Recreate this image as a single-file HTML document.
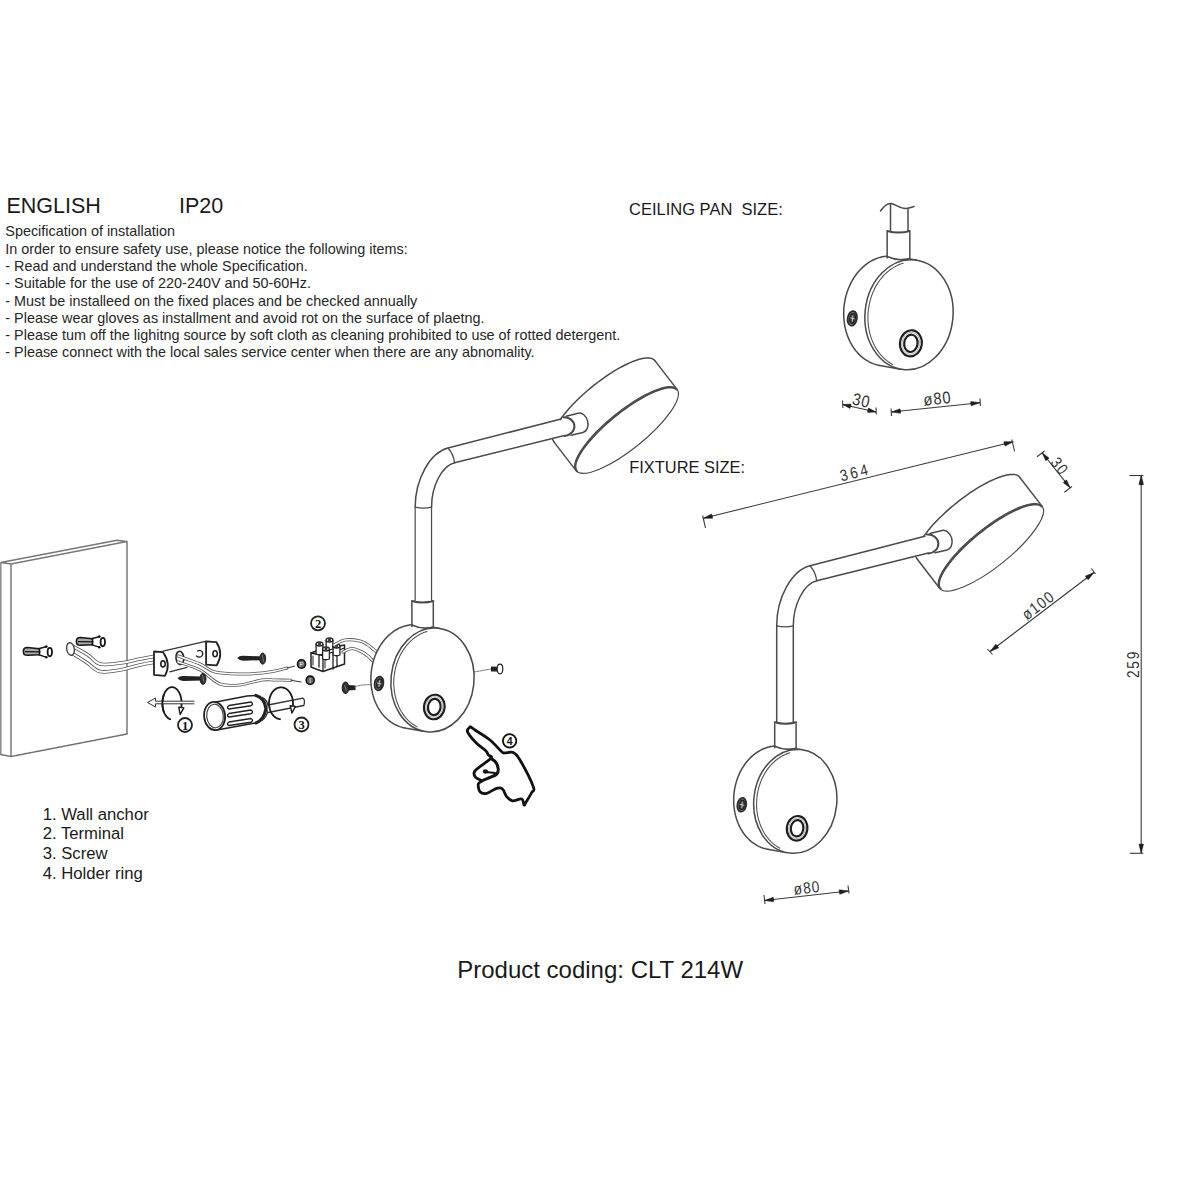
<!DOCTYPE html>
<html><head><meta charset="utf-8"><style>
html,body{margin:0;padding:0;background:#fff;width:1200px;height:1200px;overflow:hidden}
svg{display:block}
text{font-family:"Liberation Sans",sans-serif}
</style></head><body>
<svg width="1200" height="1200" viewBox="0 0 1200 1200">
<rect width="1200" height="1200" fill="#fff"/>
<g id="texts" fill="#1a1a1a">
<text x="6.5" y="212.5" font-size="21.5">ENGLISH</text>
<text x="179" y="212.5" font-size="21.5">IP20</text>
<g font-size="14.4" fill="#262626">
<text x="5.3" y="236.3">Specification of installation</text>
<text x="5.3" y="253.6">In order to ensure safety use, please notice the following items:</text>
<text x="5.3" y="270.9">- Read and understand the whole Specification.</text>
<text x="5.3" y="288.2">- Suitable for the use of 220-240V and 50-60Hz.</text>
<text x="5.3" y="305.5">- Must be installeed on the fixed places and be checked annually</text>
<text x="5.3" y="322.8">- Please wear gloves as installment and avoid rot on the surface of plaetng.</text>
<text x="5.3" y="340.1">- Please tum off the lighitng source by soft cloth as cleaning prohibited to use of rotted detergent.</text>
<text x="5.3" y="357.4">- Please connect with the local sales service center when there are any abnomality.</text>
</g>
<text x="629" y="214.7" font-size="16.5">CEILING PAN&#160; SIZE:</text>
<text x="629.3" y="472.7" font-size="16.4">FIXTURE SIZE:</text>
<g font-size="16.7">
<text x="42.7" y="819.7">1. Wall anchor</text>
<text x="42.7" y="839.4">2. Terminal</text>
<text x="42.7" y="859.1">3. Screw</text>
<text x="42.7" y="878.8">4. Holder ring</text>
</g>
<text x="457.2" y="978" font-size="24">Product coding: CLT 214W</text>
</g>
<g id="draw">
<path d="M879.65,365.47 L877.4,365 L875.17,364.38 L872.97,363.62 L870.82,362.71 L868.71,361.65 L866.65,360.46 L864.65,359.14 L862.72,357.68 L860.85,356.09 L859.06,354.38 L857.35,352.55 L855.72,350.61 L854.18,348.56 L852.73,346.4 L851.37,344.15 L850.12,341.81 L848.97,339.38 L847.93,336.88 L846.99,334.3 L846.17,331.66 L845.46,328.96 L844.87,326.22 L844.39,323.43 L844.04,320.61 L843.8,317.76 L843.69,314.89 L843.69,312.02 L843.82,309.14 L844.06,306.26 L844.43,303.4 L844.92,300.56 L845.52,297.75 L846.24,294.97 L847.07,292.24 L848.02,289.56 L849.07,286.94 L850.23,284.38 L851.49,281.9 L852.86,279.49 L854.31,277.18 L855.86,274.95 L857.5,272.82 L859.22,270.8 L861.02,268.89 L862.89,267.1 L864.83,265.42 L866.84,263.87 L868.9,262.45 L871.01,261.16 L873.17,260.01 L875.37,259 L877.6,258.13 L879.86,257.4 L882.15,256.83 L884.44,256.4 L886.75,256.12 L889.06,255.99 L891.37,256.01 L893.66,256.18 L895.95,256.51 L917.15,260.22 L909,314.7 L900.85,369.18 Z" fill="#fff" stroke="none"/>
<path d="M879.65,365.47 L877.4,365 L875.17,364.38 L872.97,363.62 L870.82,362.71 L868.71,361.65 L866.65,360.46 L864.65,359.14 L862.72,357.68 L860.85,356.09 L859.06,354.38 L857.35,352.55 L855.72,350.61 L854.18,348.56 L852.73,346.4 L851.37,344.15 L850.12,341.81 L848.97,339.38 L847.93,336.88 L846.99,334.3 L846.17,331.66 L845.46,328.96 L844.87,326.22 L844.39,323.43 L844.04,320.61 L843.8,317.76 L843.69,314.89 L843.69,312.02 L843.82,309.14 L844.06,306.26 L844.43,303.4 L844.92,300.56 L845.52,297.75 L846.24,294.97 L847.07,292.24 L848.02,289.56 L849.07,286.94 L850.23,284.38 L851.49,281.9 L852.86,279.49 L854.31,277.18 L855.86,274.95 L857.5,272.82 L859.22,270.8 L861.02,268.89 L862.89,267.1 L864.83,265.42 L866.84,263.87 L868.9,262.45 L871.01,261.16 L873.17,260.01 L875.37,259 L877.6,258.13 L879.86,257.4 L882.15,256.83 L884.44,256.4 L886.75,256.12 L889.06,255.99 L891.37,256.01 L893.66,256.18 L895.95,256.51" fill="none" stroke="#4a4a4a" stroke-width="1.5" stroke-linejoin="round" stroke-linecap="round" />
<line x1="879.65" y1="365.47" x2="900.85" y2="369.18" stroke="#4a4a4a" stroke-width="1.5" />
<line x1="895.95" y1="256.51" x2="917.15" y2="260.22" stroke="#4a4a4a" stroke-width="1.5" />
<rect x="887.16" y="230.96" width="22.68" height="27.56" fill="#fff" stroke="none"/>
<line x1="887.16" y1="231.96" x2="887.16" y2="258.52" stroke="#4a4a4a" stroke-width="1.5" />
<line x1="909.85" y1="231.96" x2="909.85" y2="258.52" stroke="#4a4a4a" stroke-width="1.5" />
<path d="M887.16,230.96 Q898.51,234.14 909.85,230.96" fill="none" stroke="#4a4a4a" stroke-width="2.0" stroke-linejoin="round" stroke-linecap="round" />
<path d="M887.16,256.52 Q898.51,261.7 909.85,258.52" fill="none" stroke="#4a4a4a" stroke-width="1.6" stroke-linejoin="round" stroke-linecap="round" />
<ellipse cx="909" cy="314.7" rx="43.99" ry="55.12" transform="rotate(6 909 314.7)" fill="#fff" stroke="#4a4a4a" stroke-width="1.5" />
<path d="M892.56,364.43 L890.14,363.03 L887.81,361.44 L885.57,359.67 L883.43,357.73 L881.41,355.61 L879.49,353.34 L877.71,350.92 L876.05,348.35 L874.53,345.66 L873.16,342.84 L871.94,339.92 L870.87,336.9 L869.96,333.79 L869.22,330.61 L868.63,327.36 L868.22,324.07 L867.98,320.75 L867.9,317.4 L868,314.05 L868.27,310.7 L868.7,307.36 L869.31,304.06 L870.07,300.8 L871,297.6 L872.09,294.47 L873.33,291.42 L874.73,288.46 L876.26,285.61 L877.93,282.88 L879.74,280.27 L881.67,277.8 L883.71,275.48 L885.86,273.32 L888.11,271.32 L890.46,269.49 L892.88,267.85 L895.38,266.39 L897.94,265.12 L900.55,264.05 L903.2,263.19" fill="none" stroke="#555" stroke-width="1.1" stroke-linejoin="round" stroke-linecap="round" />
<ellipse cx="852.29" cy="318.41" rx="4.66" ry="7.42" transform="rotate(10 852.29 318.41)" fill="#777" stroke="#2a2a2a" stroke-width="1.7" />
<ellipse cx="852.59" cy="318.41" rx="2.76" ry="4.88" transform="rotate(10 852.59 318.41)" fill="#444" stroke="#222" stroke-width="1.3" />
<path d="M850.49,317.91 L854.49,318.91 M852.79,315.61 L852.29,321.41" fill="none" stroke="#ddd" stroke-width="0.8" stroke-linejoin="round" stroke-linecap="round" />
<ellipse cx="910.91" cy="343.32" rx="10.92" ry="13.04" transform="rotate(8 910.91 343.32)" fill="none" stroke="#1e1e1e" stroke-width="2.1" />
<ellipse cx="910.91" cy="343.32" rx="8.9" ry="11.02" transform="rotate(8 910.91 343.32)" fill="none" stroke="#888" stroke-width="0.6" />
<ellipse cx="910.91" cy="343.32" rx="6.68" ry="8.69" transform="rotate(8 910.91 343.32)" fill="none" stroke="#1e1e1e" stroke-width="2.2" />
<line x1="890.5" y1="204" x2="890.5" y2="231.5" stroke="#4a4a4a" stroke-width="1.5" />
<line x1="908" y1="208.8" x2="908" y2="231.5" stroke="#4a4a4a" stroke-width="1.5" />
<path d="M880.5,211 C884,206 887.5,203 891,203.5 C896,204.5 901,209 906,208.5 C909,208.2 911.5,207.5 914,206.5" fill="none" stroke="#4a4a4a" stroke-width="1.5" stroke-linejoin="round" stroke-linecap="round" />
<path d="M767.62,849.2 L765.48,848.76 L763.38,848.17 L761.31,847.45 L759.28,846.59 L757.29,845.6 L755.35,844.47 L753.46,843.22 L751.64,841.84 L749.88,840.35 L748.19,838.73 L746.57,837.01 L745.03,835.18 L743.58,833.24 L742.21,831.21 L740.94,829.08 L739.75,826.87 L738.67,824.58 L737.68,822.22 L736.8,819.79 L736.03,817.3 L735.36,814.76 L734.8,812.17 L734.35,809.54 L734.01,806.87 L733.79,804.19 L733.68,801.48 L733.69,798.77 L733.81,796.05 L734.04,793.34 L734.39,790.64 L734.84,787.96 L735.41,785.31 L736.09,782.69 L736.88,780.11 L737.77,777.58 L738.76,775.11 L739.86,772.7 L741.05,770.35 L742.33,768.09 L743.71,765.9 L745.17,763.8 L746.72,761.8 L748.34,759.89 L750.04,758.09 L751.8,756.39 L753.63,754.81 L755.52,753.35 L757.47,752.01 L759.46,750.79 L761.5,749.71 L763.57,748.75 L765.68,747.93 L767.81,747.25 L769.97,746.7 L772.13,746.3 L774.31,746.03 L776.49,745.91 L778.67,745.93 L780.83,746.1 L782.98,746.4 L802.98,749.9 L795.3,801.3 L787.62,852.7 Z" fill="#fff" stroke="none"/>
<path d="M767.62,849.2 L765.48,848.76 L763.38,848.17 L761.31,847.45 L759.28,846.59 L757.29,845.6 L755.35,844.47 L753.46,843.22 L751.64,841.84 L749.88,840.35 L748.19,838.73 L746.57,837.01 L745.03,835.18 L743.58,833.24 L742.21,831.21 L740.94,829.08 L739.75,826.87 L738.67,824.58 L737.68,822.22 L736.8,819.79 L736.03,817.3 L735.36,814.76 L734.8,812.17 L734.35,809.54 L734.01,806.87 L733.79,804.19 L733.68,801.48 L733.69,798.77 L733.81,796.05 L734.04,793.34 L734.39,790.64 L734.84,787.96 L735.41,785.31 L736.09,782.69 L736.88,780.11 L737.77,777.58 L738.76,775.11 L739.86,772.7 L741.05,770.35 L742.33,768.09 L743.71,765.9 L745.17,763.8 L746.72,761.8 L748.34,759.89 L750.04,758.09 L751.8,756.39 L753.63,754.81 L755.52,753.35 L757.47,752.01 L759.46,750.79 L761.5,749.71 L763.57,748.75 L765.68,747.93 L767.81,747.25 L769.97,746.7 L772.13,746.3 L774.31,746.03 L776.49,745.91 L778.67,745.93 L780.83,746.1 L782.98,746.4" fill="none" stroke="#4a4a4a" stroke-width="1.5" stroke-linejoin="round" stroke-linecap="round" />
<line x1="767.62" y1="849.2" x2="787.62" y2="852.7" stroke="#4a4a4a" stroke-width="1.5" />
<line x1="782.98" y1="746.4" x2="802.98" y2="749.9" stroke="#4a4a4a" stroke-width="1.5" />
<rect x="774.7" y="722.3" width="21.4" height="26" fill="#fff" stroke="none"/>
<line x1="774.7" y1="723.3" x2="774.7" y2="748.3" stroke="#4a4a4a" stroke-width="1.5" />
<line x1="796.1" y1="723.3" x2="796.1" y2="748.3" stroke="#4a4a4a" stroke-width="1.5" />
<path d="M774.7,722.3 Q785.4,725.3 796.1,722.3" fill="none" stroke="#4a4a4a" stroke-width="2.0" stroke-linejoin="round" stroke-linecap="round" />
<path d="M774.7,746.3 Q785.4,751.3 796.1,748.3" fill="none" stroke="#4a4a4a" stroke-width="1.6" stroke-linejoin="round" stroke-linecap="round" />
<ellipse cx="795.3" cy="801.3" rx="41.5" ry="52" transform="rotate(6 795.3 801.3)" fill="#fff" stroke="#4a4a4a" stroke-width="1.5" />
<path d="M779.81,848.16 L777.54,846.84 L775.34,845.35 L773.23,843.68 L771.22,841.85 L769.3,839.86 L767.5,837.72 L765.82,835.43 L764.26,833.02 L762.83,830.48 L761.54,827.83 L760.39,825.07 L759.38,822.23 L758.52,819.3 L757.82,816.31 L757.27,813.25 L756.88,810.15 L756.65,807.02 L756.58,803.87 L756.67,800.71 L756.92,797.56 L757.33,794.42 L757.9,791.31 L758.62,788.24 L759.5,785.22 L760.53,782.27 L761.7,779.4 L763.01,776.62 L764.45,773.93 L766.03,771.36 L767.73,768.9 L769.55,766.58 L771.47,764.39 L773.5,762.36 L775.62,760.47 L777.83,758.75 L780.11,757.21 L782.46,755.83 L784.87,754.64 L787.33,753.63 L789.83,752.82" fill="none" stroke="#555" stroke-width="1.1" stroke-linejoin="round" stroke-linecap="round" />
<ellipse cx="741.8" cy="804.8" rx="4.4" ry="7" transform="rotate(10 741.8 804.8)" fill="#777" stroke="#2a2a2a" stroke-width="1.7" />
<ellipse cx="742.1" cy="804.8" rx="2.6" ry="4.6" transform="rotate(10 742.1 804.8)" fill="#444" stroke="#222" stroke-width="1.3" />
<path d="M740,804.3 L744,805.3 M742.3,802 L741.8,807.8" fill="none" stroke="#ddd" stroke-width="0.8" stroke-linejoin="round" stroke-linecap="round" />
<ellipse cx="797.1" cy="828.3" rx="10.3" ry="12.3" transform="rotate(8 797.1 828.3)" fill="none" stroke="#1e1e1e" stroke-width="2.1" />
<ellipse cx="797.1" cy="828.3" rx="8.4" ry="10.4" transform="rotate(8 797.1 828.3)" fill="none" stroke="#888" stroke-width="0.6" />
<ellipse cx="797.1" cy="828.3" rx="6.3" ry="8.2" transform="rotate(8 797.1 828.3)" fill="none" stroke="#1e1e1e" stroke-width="2.2" />
<path d="M917.14,559.03 L916.59,558.18 L916.19,557.21 L915.93,556.14 L915.81,554.96 L915.83,553.68 L916.01,552.3 L916.32,550.83 L916.78,549.27 L917.38,547.63 L918.11,545.9 L918.99,544.1 L920,542.23 L921.15,540.29 L922.42,538.29 L923.82,536.23 L925.34,534.13 L926.98,531.98 L928.74,529.79 L930.6,527.57 L932.57,525.32 L934.63,523.06 L936.79,520.78 L939.03,518.49 L941.35,516.21 L943.75,513.92 L946.22,511.65 L948.74,509.4 L951.32,507.17 L953.95,504.97 L956.62,502.81 L959.32,500.69 L962.04,498.61 L964.78,496.59 L967.53,494.63 L970.29,492.74 L973.04,490.91 L975.77,489.16 L978.49,487.48 L981.17,485.89 L983.83,484.39 L986.44,482.98 L989,481.67 L991.5,480.46 L993.95,479.35 L996.32,478.35 L998.61,477.45 L1000.82,476.67 L1002.95,476 L1004.98,475.44 L1006.9,475.01 L1008.73,474.69 L1010.44,474.49 L1012.04,474.41 L1013.51,474.45 L1014.87,474.61 L1016.09,474.88 L1017.19,475.28 L1018.15,475.79 L1018.98,476.42 L1019.66,477.17 L1042.16,506.37 L1041.48,505.62 L1040.65,504.99 L1039.69,504.48 L1038.59,504.08 L1037.37,503.81 L1036.01,503.65 L1034.54,503.61 L1032.94,503.69 L1031.23,503.89 L1029.4,504.21 L1027.48,504.64 L1025.45,505.2 L1023.32,505.87 L1021.11,506.65 L1018.82,507.55 L1016.45,508.55 L1014,509.66 L1011.5,510.87 L1008.94,512.18 L1006.33,513.59 L1003.67,515.09 L1000.99,516.68 L998.27,518.36 L995.54,520.11 L992.79,521.94 L990.03,523.83 L987.28,525.79 L984.54,527.81 L981.82,529.89 L979.12,532.01 L976.45,534.17 L973.82,536.37 L971.24,538.6 L968.72,540.85 L966.25,543.12 L963.85,545.41 L961.53,547.69 L959.29,549.98 L957.13,552.26 L955.07,554.52 L953.1,556.77 L951.24,558.99 L949.48,561.18 L947.84,563.33 L946.32,565.43 L944.92,567.49 L943.65,569.49 L942.5,571.43 L941.49,573.3 L940.61,575.1 L939.88,576.83 L939.28,578.47 L938.82,580.03 L938.51,581.5 L938.33,582.88 L938.31,584.16 L938.43,585.34 L938.69,586.41 L939.09,587.38 L939.64,588.23 Z" fill="#fff" stroke="none"/>
<path d="M917.14,559.03 L916.59,558.18 L916.19,557.21 L915.93,556.14 L915.81,554.96 L915.83,553.68 L916.01,552.3 L916.32,550.83 L916.78,549.27 L917.38,547.63 L918.11,545.9 L918.99,544.1 L920,542.23 L921.15,540.29 L922.42,538.29 L923.82,536.23 L925.34,534.13 L926.98,531.98 L928.74,529.79 L930.6,527.57 L932.57,525.32 L934.63,523.06 L936.79,520.78 L939.03,518.49 L941.35,516.21 L943.75,513.92 L946.22,511.65 L948.74,509.4 L951.32,507.17 L953.95,504.97 L956.62,502.81 L959.32,500.69 L962.04,498.61 L964.78,496.59 L967.53,494.63 L970.29,492.74 L973.04,490.91 L975.77,489.16 L978.49,487.48 L981.17,485.89 L983.83,484.39 L986.44,482.98 L989,481.67 L991.5,480.46 L993.95,479.35 L996.32,478.35 L998.61,477.45 L1000.82,476.67 L1002.95,476 L1004.98,475.44 L1006.9,475.01 L1008.73,474.69 L1010.44,474.49 L1012.04,474.41 L1013.51,474.45 L1014.87,474.61 L1016.09,474.88 L1017.19,475.28 L1018.15,475.79 L1018.98,476.42 L1019.66,477.17" fill="none" stroke="#4a4a4a" stroke-width="1.5" stroke-linejoin="round" stroke-linecap="round" />
<line x1="917.14" y1="559.03" x2="939.64" y2="588.23" stroke="#4a4a4a" stroke-width="1.5" />
<line x1="1019.66" y1="477.17" x2="1042.16" y2="506.37" stroke="#4a4a4a" stroke-width="1.5" />
<ellipse cx="990.9" cy="547.3" rx="65.6" ry="19.3" transform="rotate(-38.7 990.9 547.3)" fill="#fff" stroke="#4a4a4a" stroke-width="1.2" />
<path d="M940.75,588.95 L940.12,588.21 L939.63,587.35 L939.28,586.39 L939.07,585.33 L939,584.16 L939.08,582.89 L939.3,581.52 L939.66,580.06 L940.17,578.51 L940.81,576.88 L941.59,575.17 L942.51,573.38 L943.56,571.52 L944.75,569.6 L946.05,567.61 L947.49,565.58 L949.04,563.49 L950.71,561.36 L952.49,559.19 L954.37,556.99 L956.36,554.77 L958.44,552.52 L960.61,550.27 L962.87,548 L965.2,545.74 L967.61,543.48 L970.08,541.23 L972.6,539 L975.18,536.79 L977.8,534.62 L980.46,532.47 L983.15,530.38 L985.86,528.32 L988.58,526.33 L991.31,524.39 L994.05,522.51 L996.77,520.7 L999.48,518.97 L1002.16,517.32 L1004.82,515.74 L1007.44,514.26 L1010.01,512.87 L1012.54,511.57 L1015,510.38 L1017.4,509.28 L1019.72,508.29 L1021.97,507.41 L1024.14,506.64 L1026.21,505.98 L1028.19,505.44 L1030.07,505.01 L1031.84,504.7 L1033.5,504.5 L1035.04,504.43 L1036.46,504.47 L1037.76,504.63 L1038.93,504.91 L1039.97,505.31 L1040.88,505.82 L1041.65,506.45" fill="none" stroke="#4a4a4a" stroke-width="1.9" stroke-linejoin="round" stroke-linecap="round" />
<path d="M776.7,720.8 L776.7,625.8 C776.7,597.5 791.7,570.5 810,565.8 L924,536.5 L928.5,553.5 L816.7,580.8 C803.8,584.1 793.3,604.3 793.3,625.8 L793.3,720.8 Z" fill="#fff" stroke="none"/>
<path d="M776.7,625.8 C776.7,597.5 791.7,570.5 810,565.8 L924.8,536.3" fill="none" stroke="#4a4a4a" stroke-width="1.5" stroke-linejoin="round" stroke-linecap="round" />
<path d="M793.3,625.8 C793.3,604.3 803.8,584.1 816.7,580.8 L928.3,553.1" fill="none" stroke="#4a4a4a" stroke-width="1.5" stroke-linejoin="round" stroke-linecap="round" />
<path d="M776.7,625.8 Q785,627.8 793.3,625.8" fill="none" stroke="#4a4a4a" stroke-width="1.3" stroke-linejoin="round" stroke-linecap="round" />
<path d="M810,565.8 Q815.8,572.3 816.7,580.8" fill="none" stroke="#4a4a4a" stroke-width="1.3" stroke-linejoin="round" stroke-linecap="round" />
<path d="M927,534.5 L942,530.5 A10.05 7.5 75.6 0 1 947,550 L928.5,553.5 A9.53 10.75 85.5 0 0 927,534.5 Z" fill="#fff" stroke="none"/>
<path d="M930,533.5 L942,530.5 A10.05 7.5 75.6 0 1 947,550 L935,552.8" fill="none" stroke="#4a4a4a" stroke-width="1.5" stroke-linejoin="round" stroke-linecap="round" />
<path d="M927,534.5 A9.53 10.75 85.5 0 1 928.5,553.5" fill="none" stroke="#4a4a4a" stroke-width="2.0" stroke-linejoin="round" stroke-linecap="round" />
<line x1="776.7" y1="722.3" x2="776.7" y2="625.8" stroke="#4a4a4a" stroke-width="1.5" />
<line x1="793.3" y1="722.3" x2="793.3" y2="625.8" stroke="#4a4a4a" stroke-width="1.5" />
<path d="M0.8,562.5 L117,540.3 L127,541.5 L11,564 Z" fill="none" stroke="#777" stroke-width="1.4" stroke-linejoin="round" stroke-linecap="round" />
<line x1="0.8" y1="562.5" x2="0.8" y2="754.5" stroke="#909090" stroke-width="1.6" />
<line x1="11" y1="564" x2="11" y2="756.5" stroke="#808080" stroke-width="1.6" />
<line x1="127" y1="541.5" x2="127" y2="734" stroke="#808080" stroke-width="1.6" />
<path d="M0.8,754.5 L11,756.5 L127,734" fill="none" stroke="#707070" stroke-width="1.5" stroke-linejoin="round" stroke-linecap="round" stroke-dasharray="2.2 1"/>
<path d="M23.5,650.5 Q23.5,647.5 27.5,647.5 L39.5,648.7 L39.5,654.7 L27.5,655.3 Q23.5,655.3 23.5,652.5 Z" fill="#aaa" stroke="#151515" stroke-width="1.6" stroke-linejoin="round"/>
<line x1="25" y1="651.7" x2="40.5" y2="651.9" stroke="#151515" stroke-width="1.3" />
<path d="M38.5,648.7 L46,646.7 M38.5,654.7 L46,657.1" fill="none" stroke="#151515" stroke-width="1.4" stroke-linejoin="round" stroke-linecap="round" />
<circle cx="46.3" cy="646.6" r="1.3" fill="#111"/><circle cx="46.3" cy="657.2" r="1.3" fill="#111"/>
<ellipse cx="49.8" cy="652.1" rx="2.2" ry="4.2" transform="rotate(0 49.8 652.1)" fill="#fff" stroke="#151515" stroke-width="1.8" />
<path d="M76.5,640.5 Q76.5,637.5 80.5,637.5 L92.5,638.7 L92.5,644.7 L80.5,645.3 Q76.5,645.3 76.5,642.5 Z" fill="#aaa" stroke="#151515" stroke-width="1.6" stroke-linejoin="round"/>
<line x1="78" y1="641.7" x2="93.5" y2="641.9" stroke="#151515" stroke-width="1.3" />
<path d="M91.5,638.7 L99,636.7 M91.5,644.7 L99,647.1" fill="none" stroke="#151515" stroke-width="1.4" stroke-linejoin="round" stroke-linecap="round" />
<circle cx="99.3" cy="636.6" r="1.3" fill="#111"/><circle cx="99.3" cy="647.2" r="1.3" fill="#111"/>
<ellipse cx="102.8" cy="642.1" rx="2.2" ry="4.2" transform="rotate(0 102.8 642.1)" fill="#fff" stroke="#151515" stroke-width="1.8" />
<path d="M72,646 C74.67,647.5 83.33,652 88,655 C92.67,658 94.67,662.67 100,664 C105.33,665.33 113.33,663.83 120,663 C126.67,662.17 134,660.17 140,659 C146,657.83 153.33,656.5 156,656" fill="none" stroke="#555" stroke-width="3.6" stroke-linejoin="round" stroke-linecap="round" />
<path d="M72,646 C74.67,647.5 83.33,652 88,655 C92.67,658 94.67,662.67 100,664 C105.33,665.33 113.33,663.83 120,663 C126.67,662.17 134,660.17 140,659 C146,657.83 153.33,656.5 156,656" fill="none" stroke="#fff" stroke-width="2.0" stroke-linejoin="round" stroke-linecap="round" />
<path d="M70,652 C72.67,653.67 81,658.75 86,662 C91,665.25 94.33,670.17 100,671.5 C105.67,672.83 113.33,671.08 120,670 C126.67,668.92 134,666.33 140,665 C146,663.67 153.33,662.5 156,662" fill="none" stroke="#555" stroke-width="3.6" stroke-linejoin="round" stroke-linecap="round" />
<path d="M70,652 C72.67,653.67 81,658.75 86,662 C91,665.25 94.33,670.17 100,671.5 C105.67,672.83 113.33,671.08 120,670 C126.67,668.92 134,666.33 140,665 C146,663.67 153.33,662.5 156,662" fill="none" stroke="#fff" stroke-width="2.0" stroke-linejoin="round" stroke-linecap="round" />
<ellipse cx="70.5" cy="649" rx="3.8" ry="6.3" transform="rotate(-10 70.5 649)" fill="#fff" stroke="#444" stroke-width="1.4" />
<path d="M163,651.2 L205.5,641.4 M169.8,671.8 L187,667.3" fill="none" stroke="#333" stroke-width="1.2" stroke-linejoin="round" stroke-linecap="round" />
<path d="M154,651.5 L163,652.2 Q171.5,663.5 164.9,675.9 L154,674.8 Z" fill="#fff" stroke="#222" stroke-width="1.8" stroke-linejoin="round" stroke-linecap="round" />
<ellipse cx="163" cy="663.9" rx="2.2" ry="3" transform="rotate(0 163 663.9)" fill="none" stroke="#222" stroke-width="1.6" />
<path d="M206.1,641.4 L216.3,642.1 Q224,653.8 216.6,665.4 L206.1,664.6 Z" fill="#fff" stroke="#222" stroke-width="1.8" stroke-linejoin="round" stroke-linecap="round" />
<ellipse cx="215.1" cy="653.8" rx="2.2" ry="3" transform="rotate(0 215.1 653.8)" fill="none" stroke="#222" stroke-width="1.6" />
<path d="M197.5,651 Q200,649.5 202.5,652 Q203.5,656 200,657 Q198,657.5 196.5,656" fill="none" stroke="#222" stroke-width="1.3" stroke-linejoin="round" stroke-linecap="round" />
<ellipse cx="179.9" cy="657.9" rx="3.9" ry="6.7" transform="rotate(-5 179.9 657.9)" fill="#fff" stroke="#222" stroke-width="1.6" />
<path d="M178,656 C181.67,657.33 193.83,661.33 200,664 C206.17,666.67 208.33,670.33 215,672 C221.67,673.67 232.17,673.83 240,674 C247.83,674.17 256.17,673.5 262,673 C267.83,672.5 270.83,671.83 275,671 C279.17,670.17 285,668.5 287,668" fill="none" stroke="#555" stroke-width="3.0" stroke-linejoin="round" stroke-linecap="round" />
<path d="M178,656 C181.67,657.33 193.83,661.33 200,664 C206.17,666.67 208.33,670.33 215,672 C221.67,673.67 232.17,673.83 240,674 C247.83,674.17 256.17,673.5 262,673 C267.83,672.5 270.83,671.83 275,671 C279.17,670.17 285,668.5 287,668" fill="none" stroke="#fff" stroke-width="1.4" stroke-linejoin="round" stroke-linecap="round" />
<path d="M178,662 C181.67,663.33 193,666.33 200,670 C207,673.67 213.33,681.5 220,684 C226.67,686.5 233,685.67 240,685 C247,684.33 256.17,680.83 262,680 C267.83,679.17 270.17,679.95 275,680 C279.83,680.05 288.33,680.25 291,680.3" fill="none" stroke="#555" stroke-width="3.0" stroke-linejoin="round" stroke-linecap="round" />
<path d="M178,662 C181.67,663.33 193,666.33 200,670 C207,673.67 213.33,681.5 220,684 C226.67,686.5 233,685.67 240,685 C247,684.33 256.17,680.83 262,680 C267.83,679.17 270.17,679.95 275,680 C279.83,680.05 288.33,680.25 291,680.3" fill="none" stroke="#fff" stroke-width="1.4" stroke-linejoin="round" stroke-linecap="round" />
<path d="M287,668 L294.5,666.2" fill="none" stroke="#333" stroke-width="1.0" stroke-linejoin="round" stroke-linecap="round" />
<path d="M291,680.3 L301,682" fill="none" stroke="#333" stroke-width="1.0" stroke-linejoin="round" stroke-linecap="round" />
<ellipse cx="301.5" cy="664" rx="4" ry="4.2" transform="rotate(0 301.5 664)" fill="#666" stroke="#111" stroke-width="1.6" />
<text x="301.5" y="666.6" font-size="6.5" text-anchor="middle" font-weight="bold" fill="#ccc">P</text>
<ellipse cx="310.2" cy="680.3" rx="4" ry="4.2" transform="rotate(0 310.2 680.3)" fill="#666" stroke="#111" stroke-width="1.6" />
<text x="310.2" y="682.9" font-size="6.5" text-anchor="middle" font-weight="bold" fill="#ccc">l</text>
<path d="M237.2,658 Q239.2,655.5 243.2,655.7 L261.2,656.4 L261.2,660.2 L243.2,660.8 Q239.2,660.5 237.2,658 Z" fill="#222"/>
<ellipse cx="262.7" cy="658.6" rx="3" ry="5.6" transform="rotate(0 262.7 658.6)" fill="#333" stroke="#222" stroke-width="1" />
<line x1="262.2" y1="655" x2="263.7" y2="662" stroke="#999" stroke-width="0.6" />
<path d="M177.5,678.2 Q179.5,675.7 183.5,675.9 L201.5,676.6 L201.5,680.4 L183.5,681 Q179.5,680.7 177.5,678.2 Z" fill="#222"/>
<ellipse cx="203" cy="678.8" rx="3" ry="5.6" transform="rotate(0 203 678.8)" fill="#333" stroke="#222" stroke-width="1" />
<line x1="202.5" y1="675.2" x2="204" y2="682.2" stroke="#999" stroke-width="0.6" />
<path d="M170.33,719.25 L169.21,718.8 L168.13,718.13 L167.11,717.24 L166.16,716.15 L165.29,714.88 L164.51,713.44 L163.85,711.85 L163.3,710.15 L162.88,708.34 L162.58,706.46 L162.43,704.54 L162.41,702.59 L162.53,700.66 L162.78,698.77 L163.17,696.94 L163.69,695.2 L164.32,693.58 L165.07,692.1 L165.91,690.78 L166.84,689.64 L167.85,688.69 L168.91,687.96 L170.02,687.45 L171.16,687.16 L172.31,687.11 L173.46,687.29 L174.59,687.7 L175.67,688.33 L176.71,689.18 L177.68,690.24 L178.56,691.48 L179.35,692.89 L180.04,694.45 L180.61,696.13 L181.06,697.93 L181.37,699.79 L181.55,701.71 L181.6,703.65 L181.5,705.59 L181.27,707.49" fill="none" stroke="#1a1a1a" stroke-width="1.8" stroke-linejoin="round" stroke-linecap="round" />
<path d="M180.18,714.41 L178.71,707.09 L183.84,707.9 Z" fill="#fff" stroke="#1a1a1a" stroke-width="1.4" stroke-linejoin="round"/>
<path d="M194,701.2 L155.5,701.2 L155.5,698 L147.5,702.5 L155.5,707 L155.5,703.8 L194,703.8" fill="#fff" stroke="#333" stroke-width="1.0" stroke-linejoin="round" stroke-linecap="round" />
<path d="M163.69,711.4 L163.3,710.15 L162.98,708.84 L162.73,707.49 L162.55,706.11 L162.44,704.71 L162.4,703.3 L162.44,701.89 L162.55,700.49 L162.73,699.11 L162.98,697.76 L163.3,696.45 L163.69,695.2" fill="none" stroke="#1a1a1a" stroke-width="1.8" stroke-linejoin="round" stroke-linecap="round" />
<ellipse cx="185" cy="725" rx="7" ry="7" transform="rotate(0 185 725)" fill="#fff" stroke="#222" stroke-width="1.8" />
<text x="185" y="730" font-size="12.5" text-anchor="middle" fill="#111" font-weight="bold" style="font-family:Liberation Serif">1</text>
<path d="M216,702 L247,696 L257,695.5 L257,722.5 L255,723 L217,730 Z" fill="#fff" stroke="#222" stroke-width="1.6" stroke-linejoin="round" stroke-linecap="round" />
<ellipse cx="214.6" cy="716" rx="10.5" ry="14.2" transform="rotate(-5 214.6 716)" fill="#fff" stroke="#222" stroke-width="1.8" />
<ellipse cx="215" cy="716" rx="8.3" ry="11.8" transform="rotate(-5 215 716)" fill="none" stroke="#444" stroke-width="1.2" />
<path d="M229,705.5 L251,702 Q254,704 251,705.7 L229,709 Q226,707.5 229,705.5" fill="none" stroke="#222" stroke-width="1.4" stroke-linejoin="round" stroke-linecap="round" />
<path d="M229,713.5 L251,710 Q254,712 251,713.7 L229,717 Q226,715.5 229,713.5" fill="none" stroke="#222" stroke-width="1.4" stroke-linejoin="round" stroke-linecap="round" />
<path d="M229,722 L251,718.5 Q254,720.5 251,722.2 L229,725.5 Q226,724 229,722" fill="none" stroke="#222" stroke-width="1.4" stroke-linejoin="round" stroke-linecap="round" />
<path d="M256,695.5 Q264,697.5 266,708.5 Q264,720 256,723" fill="#fff" stroke="#222" stroke-width="3.2" stroke-linejoin="round" stroke-linecap="round" />
<path d="M262,697.5 Q268,700 268.5,708.5 Q267,717 262,720.5" fill="none" stroke="#333" stroke-width="1.4" stroke-linejoin="round" stroke-linecap="round" />
<path d="M268,705 L303,698.2 Q305.5,700 303.8,705.5 L268,712.5" fill="#fff" stroke="#333" stroke-width="1.3" stroke-linejoin="round" stroke-linecap="round" />
<path d="M279.95,719.24 L278.53,718.96 L277.14,718.45 L275.81,717.73 L274.55,716.79 L273.39,715.67 L272.33,714.36 L271.4,712.9 L270.61,711.3 L269.96,709.58 L269.48,707.78 L269.16,705.91 L269.01,704 L269.03,702.08 L269.23,700.18 L269.6,698.32 L270.12,696.54 L270.81,694.85 L271.64,693.29 L272.61,691.86 L273.69,690.61 L274.89,689.53 L276.17,688.66 L277.52,687.99 L278.92,687.54 L280.35,687.32 L281.78,687.33 L283.21,687.57 L284.61,688.04 L285.95,688.73 L287.23,689.62 L288.41,690.71 L289.49,691.99 L290.44,693.42 L291.26,695 L291.93,696.7 L292.44,698.49 L292.79,700.35 L292.97,702.25 L292.98,704.17 L292.82,706.08" fill="none" stroke="#1a1a1a" stroke-width="1.8" stroke-linejoin="round" stroke-linecap="round" />
<path d="M291.9,713.02 L290.24,705.74 L295.4,706.42 Z" fill="#fff" stroke="#1a1a1a" stroke-width="1.4" stroke-linejoin="round"/>
<ellipse cx="301.5" cy="724.5" rx="7" ry="7" transform="rotate(0 301.5 724.5)" fill="#fff" stroke="#222" stroke-width="1.8" />
<text x="301.5" y="729.3" font-size="12.5" text-anchor="middle" fill="#111" font-weight="bold" style="font-family:Liberation Serif">3</text>
<ellipse cx="318" cy="623.3" rx="7" ry="7" transform="rotate(0 318 623.3)" fill="#fff" stroke="#222" stroke-width="1.8" />
<text x="318" y="628.2" font-size="12.5" text-anchor="middle" fill="#111" style="font-family:Liberation Serif" font-weight="bold">2</text>
<path d="M311,653 L319,650 L344.5,645 L344.5,664 L323,671.5 L316,669 L311,667 Z" fill="#fff" stroke="#222" stroke-width="1.5" stroke-linejoin="round" stroke-linecap="round" />
<path d="M319,650 L319,667 M323,655.5 L323,671.5 M333,652 L333,669 M337,650.5 L337,666.5 M311,653 L323,655.5 L344.5,648" fill="none" stroke="#222" stroke-width="1.3" stroke-linejoin="round" stroke-linecap="round" />
<path d="M313,656 L313,665 M325,659 L325,668" fill="none" stroke="#444" stroke-width="1.2" stroke-linejoin="round" stroke-linecap="round" />
<path d="M326.1,640 L326.1,649 Q329.5,650.5 332.9,649 L332.9,640" fill="#fff" stroke="#222" stroke-width="1.3"/>
<ellipse cx="329.5" cy="640" rx="3.4" ry="2" transform="rotate(0 329.5 640)" fill="#fff" stroke="#222" stroke-width="1.3" />
<ellipse cx="329.5" cy="640" rx="1.3" ry="0.8" transform="rotate(0 329.5 640)" fill="#222" stroke="#222" stroke-width="1" />
<path d="M316.1,644 L316.1,654 Q319.5,655.5 322.9,654 L322.9,644" fill="#fff" stroke="#222" stroke-width="1.3"/>
<ellipse cx="319.5" cy="644" rx="3.4" ry="2" transform="rotate(0 319.5 644)" fill="#fff" stroke="#222" stroke-width="1.3" />
<ellipse cx="319.5" cy="644" rx="1.3" ry="0.8" transform="rotate(0 319.5 644)" fill="#222" stroke="#222" stroke-width="1" />
<path d="M333.1,646 L333.1,655 Q336.5,656.5 339.9,655 L339.9,646" fill="#fff" stroke="#222" stroke-width="1.3"/>
<ellipse cx="336.5" cy="646" rx="3.4" ry="2" transform="rotate(0 336.5 646)" fill="#fff" stroke="#222" stroke-width="1.3" />
<ellipse cx="336.5" cy="646" rx="1.3" ry="0.8" transform="rotate(0 336.5 646)" fill="#222" stroke="#222" stroke-width="1" />
<path d="M322.6,649 L322.6,659 Q326,660.5 329.4,659 L329.4,649" fill="#fff" stroke="#222" stroke-width="1.3"/>
<ellipse cx="326" cy="649" rx="3.4" ry="2" transform="rotate(0 326 649)" fill="#fff" stroke="#222" stroke-width="1.3" />
<ellipse cx="326" cy="649" rx="1.3" ry="0.8" transform="rotate(0 326 649)" fill="#222" stroke="#222" stroke-width="1" />
<path d="M334,645 C335.83,644.17 340.67,640.67 345,640 C349.33,639.33 356.17,640.17 360,641 C363.83,641.83 365.83,643.67 368,645 C370.17,646.33 371.33,647.75 373,649 C374.67,650.25 377.17,651.92 378,652.5" fill="none" stroke="#555" stroke-width="3.2" stroke-linejoin="round" stroke-linecap="round" />
<path d="M334,645 C335.83,644.17 340.67,640.67 345,640 C349.33,639.33 356.17,640.17 360,641 C363.83,641.83 365.83,643.67 368,645 C370.17,646.33 371.33,647.75 373,649 C374.67,650.25 377.17,651.92 378,652.5" fill="none" stroke="#fff" stroke-width="1.6" stroke-linejoin="round" stroke-linecap="round" />
<path d="M343,652 C344.5,651.42 348.83,648.5 352,648.5 C355.17,648.5 359.33,650.75 362,652 C364.67,653.25 366.33,654.67 368,656 C369.67,657.33 370.67,658.75 372,660 C373.33,661.25 375.33,662.92 376,663.5" fill="none" stroke="#555" stroke-width="3.2" stroke-linejoin="round" stroke-linecap="round" />
<path d="M343,652 C344.5,651.42 348.83,648.5 352,648.5 C355.17,648.5 359.33,650.75 362,652 C364.67,653.25 366.33,654.67 368,656 C369.67,657.33 370.67,658.75 372,660 C373.33,661.25 375.33,662.92 376,663.5" fill="none" stroke="#fff" stroke-width="1.6" stroke-linejoin="round" stroke-linecap="round" />
<path d="M348,685 L355.5,685.5 L355.5,690 L348,690.5 Z" fill="#222"/>
<ellipse cx="345.5" cy="687.8" rx="3.2" ry="5.6" transform="rotate(0 345.5 687.8)" fill="#333" stroke="#222" stroke-width="1.2" />
<line x1="344.5" y1="685" x2="346.5" y2="691" stroke="#aaa" stroke-width="0.6" />
<path d="M355,686.5 Q365,684 372,685 L381,683.3" fill="none" stroke="#666" stroke-width="0.9" stroke-linejoin="round" stroke-linecap="round" stroke-dasharray="2 1"/>
<path d="M474,672 L491,669" fill="none" stroke="#666" stroke-width="0.9" stroke-linejoin="round" stroke-linecap="round" stroke-dasharray="2 1"/>
<path d="M491,666.5 L497,666.8 L497,671.5 L491,671.5 Z" fill="#222"/>
<ellipse cx="500" cy="669" rx="2.8" ry="4.8" transform="rotate(0 500 669)" fill="#fff" stroke="#222" stroke-width="1.2" />
<path d="M470.2,726.7 C471,727.25 471.7,727.78 475,730 C478.3,732.22 485.55,736.38 490,740 C494.45,743.62 499.2,749.55 501.7,751.7 C504.2,753.85 503.07,752.77 505,752.9 C506.93,753.03 510.8,751.32 513.3,752.5 C515.8,753.68 516.67,754.3 520,760 C523.33,765.7 531.35,781.28 533.3,786.7 C535.25,792.12 532.95,789.87 531.7,792.5 C530.45,795.13 527.08,800.42 525.8,802.5 C524.52,804.58 524.68,805.58 524,805 C523.32,804.42 523.62,799.7 521.7,799 C519.78,798.3 515,801.18 512.5,800.8 C510,800.42 508.37,798.67 506.7,796.7 C505.03,794.73 504.17,790.4 502.5,789 C500.83,787.6 499.33,787.58 496.7,788.3 C494.07,789.02 489.48,792.73 486.7,793.3 C483.92,793.87 481.4,793.25 480,791.7 C478.6,790.15 478.02,785.82 478.3,784 C478.58,782.18 482.12,781.88 481.7,780.8 C481.28,779.72 476.92,779.17 475.8,777.5 C474.68,775.83 472.5,774 475,770.8 C477.5,767.6 488.58,760.93 490.8,758.3 C493.02,755.67 489.13,756.25 488.3,755 C487.47,753.75 487.88,752.88 485.8,750.8 C483.72,748.72 478.85,745.68 475.8,742.5 C472.75,739.32 468.43,734.33 467.5,731.7 C466.57,729.07 469.75,727.53 470.2,726.7 Z" fill="#fff" stroke="#111" stroke-width="2.8" stroke-linejoin="round" stroke-linecap="round" />
<path d="M490.8,758.3 Q498,762 498.3,769.2 Q498,774 495.8,775 L481.7,780.8" fill="none" stroke="#111" stroke-width="3.0" stroke-linejoin="round" stroke-linecap="round" />
<ellipse cx="485.5" cy="771.5" rx="2.6" ry="2.2" fill="#111"/>
<path d="M486,772 L495,773" fill="none" stroke="#111" stroke-width="2.2" stroke-linejoin="round" stroke-linecap="round" />
<ellipse cx="509.6" cy="740.8" rx="6.7" ry="6.7" transform="rotate(0 509.6 740.8)" fill="#fff" stroke="#111" stroke-width="1.8" />
<text x="509.6" y="744.8" font-size="10.5" text-anchor="middle" fill="#111" font-weight="bold">4</text>
<path d="M404.82,727.9 L402.68,727.46 L400.58,726.87 L398.51,726.15 L396.48,725.29 L394.49,724.3 L392.55,723.17 L390.66,721.92 L388.84,720.54 L387.08,719.05 L385.39,717.43 L383.77,715.71 L382.23,713.88 L380.78,711.94 L379.41,709.91 L378.14,707.78 L376.95,705.57 L375.87,703.28 L374.88,700.92 L374,698.49 L373.23,696 L372.56,693.46 L372,690.87 L371.55,688.24 L371.21,685.57 L370.99,682.89 L370.88,680.18 L370.89,677.47 L371.01,674.75 L371.24,672.04 L371.59,669.34 L372.04,666.66 L372.61,664.01 L373.29,661.39 L374.08,658.81 L374.97,656.28 L375.96,653.81 L377.06,651.4 L378.25,649.05 L379.53,646.79 L380.91,644.6 L382.37,642.5 L383.92,640.5 L385.54,638.59 L387.24,636.79 L389,635.09 L390.83,633.51 L392.72,632.05 L394.67,630.71 L396.66,629.49 L398.7,628.41 L400.77,627.45 L402.88,626.63 L405.01,625.95 L407.17,625.4 L409.33,625 L411.51,624.73 L413.69,624.61 L415.87,624.63 L418.03,624.8 L420.18,625.1 L440.18,628.6 L432.5,680 L424.82,731.4 Z" fill="#fff" stroke="none"/>
<path d="M404.82,727.9 L402.68,727.46 L400.58,726.87 L398.51,726.15 L396.48,725.29 L394.49,724.3 L392.55,723.17 L390.66,721.92 L388.84,720.54 L387.08,719.05 L385.39,717.43 L383.77,715.71 L382.23,713.88 L380.78,711.94 L379.41,709.91 L378.14,707.78 L376.95,705.57 L375.87,703.28 L374.88,700.92 L374,698.49 L373.23,696 L372.56,693.46 L372,690.87 L371.55,688.24 L371.21,685.57 L370.99,682.89 L370.88,680.18 L370.89,677.47 L371.01,674.75 L371.24,672.04 L371.59,669.34 L372.04,666.66 L372.61,664.01 L373.29,661.39 L374.08,658.81 L374.97,656.28 L375.96,653.81 L377.06,651.4 L378.25,649.05 L379.53,646.79 L380.91,644.6 L382.37,642.5 L383.92,640.5 L385.54,638.59 L387.24,636.79 L389,635.09 L390.83,633.51 L392.72,632.05 L394.67,630.71 L396.66,629.49 L398.7,628.41 L400.77,627.45 L402.88,626.63 L405.01,625.95 L407.17,625.4 L409.33,625 L411.51,624.73 L413.69,624.61 L415.87,624.63 L418.03,624.8 L420.18,625.1" fill="none" stroke="#4a4a4a" stroke-width="1.5" stroke-linejoin="round" stroke-linecap="round" />
<line x1="404.82" y1="727.9" x2="424.82" y2="731.4" stroke="#4a4a4a" stroke-width="1.5" />
<line x1="420.18" y1="625.1" x2="440.18" y2="628.6" stroke="#4a4a4a" stroke-width="1.5" />
<rect x="411.9" y="601" width="21.4" height="26" fill="#fff" stroke="none"/>
<line x1="411.9" y1="602" x2="411.9" y2="627" stroke="#4a4a4a" stroke-width="1.5" />
<line x1="433.3" y1="602" x2="433.3" y2="627" stroke="#4a4a4a" stroke-width="1.5" />
<path d="M411.9,601 Q422.6,604 433.3,601" fill="none" stroke="#4a4a4a" stroke-width="2.0" stroke-linejoin="round" stroke-linecap="round" />
<path d="M411.9,625 Q422.6,630 433.3,627" fill="none" stroke="#4a4a4a" stroke-width="1.6" stroke-linejoin="round" stroke-linecap="round" />
<ellipse cx="432.5" cy="680" rx="41.5" ry="52" transform="rotate(6 432.5 680)" fill="#fff" stroke="#4a4a4a" stroke-width="1.5" />
<path d="M417.01,726.86 L414.74,725.54 L412.54,724.05 L410.43,722.38 L408.42,720.55 L406.5,718.56 L404.7,716.42 L403.02,714.13 L401.46,711.72 L400.03,709.18 L398.74,706.53 L397.59,703.77 L396.58,700.93 L395.72,698 L395.02,695.01 L394.47,691.95 L394.08,688.85 L393.85,685.72 L393.78,682.57 L393.87,679.41 L394.12,676.26 L394.53,673.12 L395.1,670.01 L395.82,666.94 L396.7,663.92 L397.73,660.97 L398.9,658.1 L400.21,655.32 L401.65,652.63 L403.23,650.06 L404.93,647.6 L406.75,645.28 L408.67,643.09 L410.7,641.06 L412.82,639.17 L415.03,637.45 L417.31,635.91 L419.66,634.53 L422.07,633.34 L424.53,632.33 L427.03,631.52" fill="none" stroke="#555" stroke-width="1.1" stroke-linejoin="round" stroke-linecap="round" />
<ellipse cx="379" cy="683.5" rx="4.4" ry="7" transform="rotate(10 379 683.5)" fill="#777" stroke="#2a2a2a" stroke-width="1.7" />
<ellipse cx="379.3" cy="683.5" rx="2.6" ry="4.6" transform="rotate(10 379.3 683.5)" fill="#444" stroke="#222" stroke-width="1.3" />
<path d="M377.2,683 L381.2,684 M379.5,680.7 L379,686.5" fill="none" stroke="#ddd" stroke-width="0.8" stroke-linejoin="round" stroke-linecap="round" />
<ellipse cx="434.3" cy="707" rx="10.3" ry="12.3" transform="rotate(8 434.3 707)" fill="none" stroke="#1e1e1e" stroke-width="2.1" />
<ellipse cx="434.3" cy="707" rx="8.4" ry="10.4" transform="rotate(8 434.3 707)" fill="none" stroke="#888" stroke-width="0.6" />
<ellipse cx="434.3" cy="707" rx="6.3" ry="8.2" transform="rotate(8 434.3 707)" fill="none" stroke="#1e1e1e" stroke-width="2.2" />
<path d="M553.89,441.84 L553.35,441 L552.95,440.04 L552.7,438.98 L552.58,437.82 L552.61,436.56 L552.78,435.2 L553.09,433.75 L553.54,432.21 L554.13,430.58 L554.86,428.87 L555.72,427.09 L556.72,425.24 L557.85,423.32 L559.1,421.34 L560.48,419.3 L561.98,417.22 L563.6,415.09 L565.33,412.93 L567.16,410.73 L569.1,408.51 L571.13,406.26 L573.26,404 L575.47,401.74 L577.76,399.47 L580.12,397.21 L582.55,394.96 L585.04,392.73 L587.58,390.52 L590.17,388.34 L592.8,386.19 L595.46,384.09 L598.14,382.03 L600.84,380.03 L603.55,378.08 L606.27,376.2 L608.97,374.38 L611.67,372.64 L614.34,370.98 L616.99,369.4 L619.61,367.91 L622.18,366.51 L624.7,365.21 L627.17,364 L629.57,362.9 L631.91,361.9 L634.17,361 L636.35,360.22 L638.44,359.56 L640.44,359 L642.34,358.56 L644.13,358.24 L645.82,358.04 L647.39,357.95 L648.85,357.99 L650.18,358.14 L651.39,358.41 L652.47,358.8 L653.42,359.3 L654.23,359.92 L654.9,360.65 L677.07,389.41 L676.39,388.68 L675.58,388.06 L674.63,387.56 L673.55,387.17 L672.34,386.9 L671.01,386.75 L669.56,386.71 L667.98,386.8 L666.3,387 L664.5,387.32 L662.6,387.76 L660.6,388.32 L658.51,388.99 L656.33,389.77 L654.07,390.66 L651.74,391.66 L649.33,392.76 L646.86,393.97 L644.34,395.27 L641.77,396.67 L639.15,398.16 L636.51,399.74 L633.83,401.41 L631.14,403.15 L628.43,404.96 L625.71,406.84 L623,408.79 L620.3,410.79 L617.62,412.85 L614.96,414.95 L612.33,417.1 L609.74,419.28 L607.2,421.49 L604.71,423.72 L602.28,425.97 L599.92,428.23 L597.63,430.5 L595.42,432.77 L593.29,435.02 L591.26,437.27 L589.32,439.49 L587.49,441.69 L585.76,443.85 L584.14,445.98 L582.64,448.07 L581.26,450.1 L580.01,452.08 L578.88,454 L577.88,455.85 L577.02,457.64 L576.29,459.34 L575.7,460.97 L575.25,462.51 L574.94,463.96 L574.77,465.32 L574.74,466.58 L574.86,467.75 L575.12,468.81 L575.51,469.76 L576.05,470.6 Z" fill="#fff" stroke="none"/>
<path d="M553.89,441.84 L553.35,441 L552.95,440.04 L552.7,438.98 L552.58,437.82 L552.61,436.56 L552.78,435.2 L553.09,433.75 L553.54,432.21 L554.13,430.58 L554.86,428.87 L555.72,427.09 L556.72,425.24 L557.85,423.32 L559.1,421.34 L560.48,419.3 L561.98,417.22 L563.6,415.09 L565.33,412.93 L567.16,410.73 L569.1,408.51 L571.13,406.26 L573.26,404 L575.47,401.74 L577.76,399.47 L580.12,397.21 L582.55,394.96 L585.04,392.73 L587.58,390.52 L590.17,388.34 L592.8,386.19 L595.46,384.09 L598.14,382.03 L600.84,380.03 L603.55,378.08 L606.27,376.2 L608.97,374.38 L611.67,372.64 L614.34,370.98 L616.99,369.4 L619.61,367.91 L622.18,366.51 L624.7,365.21 L627.17,364 L629.57,362.9 L631.91,361.9 L634.17,361 L636.35,360.22 L638.44,359.56 L640.44,359 L642.34,358.56 L644.13,358.24 L645.82,358.04 L647.39,357.95 L648.85,357.99 L650.18,358.14 L651.39,358.41 L652.47,358.8 L653.42,359.3 L654.23,359.92 L654.9,360.65" fill="none" stroke="#4a4a4a" stroke-width="1.5" stroke-linejoin="round" stroke-linecap="round" />
<line x1="553.89" y1="441.84" x2="576.05" y2="470.6" stroke="#4a4a4a" stroke-width="1.5" />
<line x1="654.9" y1="360.65" x2="677.07" y2="389.41" stroke="#4a4a4a" stroke-width="1.5" />
<ellipse cx="626.56" cy="430.01" rx="64.8" ry="19" transform="rotate(-38.9 626.56 430.01)" fill="#fff" stroke="#4a4a4a" stroke-width="1.2" />
<path d="M577.17,471.32 L576.55,470.59 L576.06,469.76 L575.71,468.81 L575.51,467.76 L575.44,466.61 L575.52,465.36 L575.73,464.01 L576.09,462.57 L576.58,461.04 L577.21,459.43 L577.98,457.74 L578.88,455.97 L579.92,454.13 L581.08,452.23 L582.37,450.27 L583.78,448.25 L585.31,446.19 L586.95,444.08 L588.7,441.94 L590.56,439.76 L592.51,437.56 L594.56,435.33 L596.7,433.1 L598.92,430.86 L601.22,428.61 L603.58,426.37 L606.02,424.14 L608.5,421.93 L611.04,419.74 L613.63,417.59 L616.24,415.46 L618.89,413.38 L621.56,411.34 L624.25,409.36 L626.94,407.43 L629.63,405.57 L632.31,403.77 L634.98,402.05 L637.63,400.41 L640.24,398.85 L642.82,397.37 L645.36,395.99 L647.84,394.7 L650.27,393.5 L652.64,392.41 L654.93,391.42 L657.15,390.54 L659.28,389.77 L661.32,389.11 L663.27,388.56 L665.12,388.13 L666.87,387.82 L668.5,387.62 L670.03,387.53 L671.43,387.57 L672.71,387.72 L673.87,387.99 L674.89,388.38 L675.79,388.88 L676.55,389.49" fill="none" stroke="#4a4a4a" stroke-width="1.9" stroke-linejoin="round" stroke-linecap="round" />
<path d="M415.18,600.71 L415.18,507.13 C415.18,479.26 429.95,452.66 447.98,448.03 L560.27,419.17 L564.7,435.92 L454.58,462.81 C441.87,466.06 431.53,485.96 431.53,507.13 L431.53,600.71 Z" fill="#fff" stroke="none"/>
<path d="M415.18,507.13 C415.18,479.26 429.95,452.66 447.98,448.03 L561.06,418.98" fill="none" stroke="#4a4a4a" stroke-width="1.5" stroke-linejoin="round" stroke-linecap="round" />
<path d="M431.53,507.13 C431.53,485.96 441.87,466.06 454.58,462.81 L564.5,435.52" fill="none" stroke="#4a4a4a" stroke-width="1.5" stroke-linejoin="round" stroke-linecap="round" />
<path d="M415.18,507.13 Q423.35,509.1 431.53,507.13" fill="none" stroke="#4a4a4a" stroke-width="1.3" stroke-linejoin="round" stroke-linecap="round" />
<path d="M447.98,448.03 Q453.69,454.44 454.58,462.81" fill="none" stroke="#4a4a4a" stroke-width="1.3" stroke-linejoin="round" stroke-linecap="round" />
<path d="M563.22,417.2 L578,413.26 A9.9 7.39 75.6 0 1 582.92,432.47 L564.7,435.92 A9.39 10.59 85.5 0 0 563.22,417.2 Z" fill="#fff" stroke="none"/>
<path d="M566.18,416.22 L578,413.26 A9.9 7.39 75.6 0 1 582.92,432.47 L571.1,435.23" fill="none" stroke="#4a4a4a" stroke-width="1.5" stroke-linejoin="round" stroke-linecap="round" />
<path d="M563.22,417.2 A9.39 10.59 85.5 0 1 564.7,435.92" fill="none" stroke="#4a4a4a" stroke-width="2.0" stroke-linejoin="round" stroke-linecap="round" />
<line x1="415.18" y1="601" x2="415.18" y2="507.13" stroke="#4a4a4a" stroke-width="1.2" />
<line x1="431.53" y1="601" x2="431.53" y2="507.13" stroke="#4a4a4a" stroke-width="1.2" />
<line x1="842.7" y1="404.5" x2="876" y2="412" stroke="#3a3a3a" stroke-width="1.1" />
<path d="M842.7,404.5 L850.99,404.11 Q851.28,406.43 850.02,408.4 Z" fill="#1e1e1e" stroke="#1e1e1e" stroke-width="0.5"/>
<path d="M876,412 L867.71,412.39 Q867.42,410.07 868.68,408.1 Z" fill="#1e1e1e" stroke="#1e1e1e" stroke-width="0.5"/>
<line x1="842.5" y1="400.5" x2="842.9" y2="408" stroke="#3a3a3a" stroke-width="1.1" />
<line x1="876" y1="407.5" x2="876.3" y2="414.5" stroke="#3a3a3a" stroke-width="1.1" />
<g transform="translate(861.5 400.5) rotate(12.3) scale(0.86 1)"><text x="0" y="0" font-size="17" text-anchor="middle" dominant-baseline="central" letter-spacing="1" fill="#333">30</text></g>
<line x1="891.3" y1="412" x2="980" y2="402.7" stroke="#3a3a3a" stroke-width="1.1" />
<path d="M891.3,412 L900.02,408.87 Q901.05,410.98 900.48,413.25 Z" fill="#1e1e1e" stroke="#1e1e1e" stroke-width="0.5"/>
<path d="M980,402.7 L971.28,405.83 Q970.25,403.72 970.82,401.45 Z" fill="#1e1e1e" stroke="#1e1e1e" stroke-width="0.5"/>
<line x1="891" y1="408.5" x2="891.5" y2="416" stroke="#3a3a3a" stroke-width="1.1" />
<line x1="980" y1="398.5" x2="980.4" y2="406" stroke="#3a3a3a" stroke-width="1.1" />
<g transform="translate(937.5 398.5) rotate(-6) scale(0.86 1)"><text x="0" y="0" font-size="17" text-anchor="middle" dominant-baseline="central" letter-spacing="1.2" fill="#333">ø80</text></g>
<line x1="703.3" y1="518.3" x2="1013.3" y2="441.7" stroke="#3a3a3a" stroke-width="1.1" />
<path d="M703.3,518.3 L711.49,513.91 Q712.81,515.95 712.59,518.37 Z" fill="#1e1e1e" stroke="#1e1e1e" stroke-width="0.5"/>
<path d="M1013.3,441.7 L1005.11,446.09 Q1003.79,444.05 1004.01,441.63 Z" fill="#1e1e1e" stroke="#1e1e1e" stroke-width="0.5"/>
<line x1="702.6" y1="515.5" x2="705.5" y2="527.8" stroke="#3a3a3a" stroke-width="1.1" />
<line x1="1011.8" y1="439.5" x2="1014.6" y2="451.5" stroke="#3a3a3a" stroke-width="1.1" />
<g transform="translate(855 472) rotate(-13.9) scale(0.86 1)"><text x="0" y="0" font-size="16" text-anchor="middle" dominant-baseline="central" letter-spacing="3" fill="#333">364</text></g>
<line x1="1042.3" y1="453" x2="1070" y2="487.7" stroke="#3a3a3a" stroke-width="1.1" />
<path d="M1042.3,453 L1049.01,457.88 Q1047.79,459.88 1045.57,460.62 Z" fill="#1e1e1e" stroke="#1e1e1e" stroke-width="0.5"/>
<path d="M1070,487.7 L1063.29,482.82 Q1064.51,480.82 1066.73,480.08 Z" fill="#1e1e1e" stroke="#1e1e1e" stroke-width="0.5"/>
<line x1="1037" y1="456.7" x2="1044.5" y2="451" stroke="#3a3a3a" stroke-width="1.1" />
<line x1="1064.3" y1="492.3" x2="1072" y2="486.5" stroke="#3a3a3a" stroke-width="1.1" />
<g transform="translate(1060 466) rotate(51.4) scale(0.86 1)"><text x="0" y="0" font-size="16" text-anchor="middle" dominant-baseline="central" letter-spacing="1.5" fill="#333">30</text></g>
<line x1="990" y1="651.5" x2="1094" y2="572.5" stroke="#3a3a3a" stroke-width="1.1" />
<path d="M990,651.5 L995.78,644.22 Q997.8,645.57 998.56,647.89 Z" fill="#1e1e1e" stroke="#1e1e1e" stroke-width="0.5"/>
<path d="M1094,572.5 L1088.22,579.78 Q1086.2,578.43 1085.44,576.11 Z" fill="#1e1e1e" stroke="#1e1e1e" stroke-width="0.5"/>
<line x1="987.5" y1="649" x2="992.5" y2="654.5" stroke="#3a3a3a" stroke-width="1.1" />
<line x1="1091.5" y1="568.5" x2="1095.5" y2="574" stroke="#3a3a3a" stroke-width="1.1" />
<g transform="translate(1038 605) rotate(-37.2) scale(0.86 1)"><text x="0" y="0" font-size="16" text-anchor="middle" dominant-baseline="central" letter-spacing="1.5" fill="#333">ø100</text></g>
<line x1="1141.2" y1="475.5" x2="1141.2" y2="853.3" stroke="#3a3a3a" stroke-width="1.1" />
<path d="M1141.2,475.5 L1143.5,484.5 Q1141.2,485.3 1138.9,484.5 Z" fill="#1e1e1e" stroke="#1e1e1e" stroke-width="0.5"/>
<path d="M1141.2,853.3 L1138.9,844.3 Q1141.2,843.5 1143.5,844.3 Z" fill="#1e1e1e" stroke="#1e1e1e" stroke-width="0.5"/>
<line x1="1129.5" y1="475.5" x2="1143.5" y2="475.5" stroke="#3a3a3a" stroke-width="1.1" />
<line x1="1129.8" y1="853.3" x2="1143.3" y2="853.3" stroke="#3a3a3a" stroke-width="1.1" />
<g transform="translate(1133.5 664) rotate(-90) scale(0.86 1)"><text x="0" y="0" font-size="16" text-anchor="middle" dominant-baseline="central" letter-spacing="2" fill="#333">259</text></g>
<line x1="764.5" y1="900.5" x2="848.5" y2="891" stroke="#3a3a3a" stroke-width="1.1" />
<path d="M764.5,900.5 L773.18,897.2 Q774.24,899.4 773.7,901.77 Z" fill="#1e1e1e" stroke="#1e1e1e" stroke-width="0.5"/>
<path d="M848.5,891 L839.82,894.3 Q838.76,892.1 839.3,889.73 Z" fill="#1e1e1e" stroke="#1e1e1e" stroke-width="0.5"/>
<line x1="764" y1="895" x2="765" y2="904" stroke="#3a3a3a" stroke-width="1.1" />
<line x1="848" y1="885.5" x2="849" y2="893.5" stroke="#3a3a3a" stroke-width="1.1" />
<g transform="translate(807 887.5) rotate(-6.45) scale(0.86 1)"><text x="0" y="0" font-size="16" text-anchor="middle" dominant-baseline="central" letter-spacing="1.2" fill="#333">ø80</text></g>
</g>
</svg>
</body></html>
